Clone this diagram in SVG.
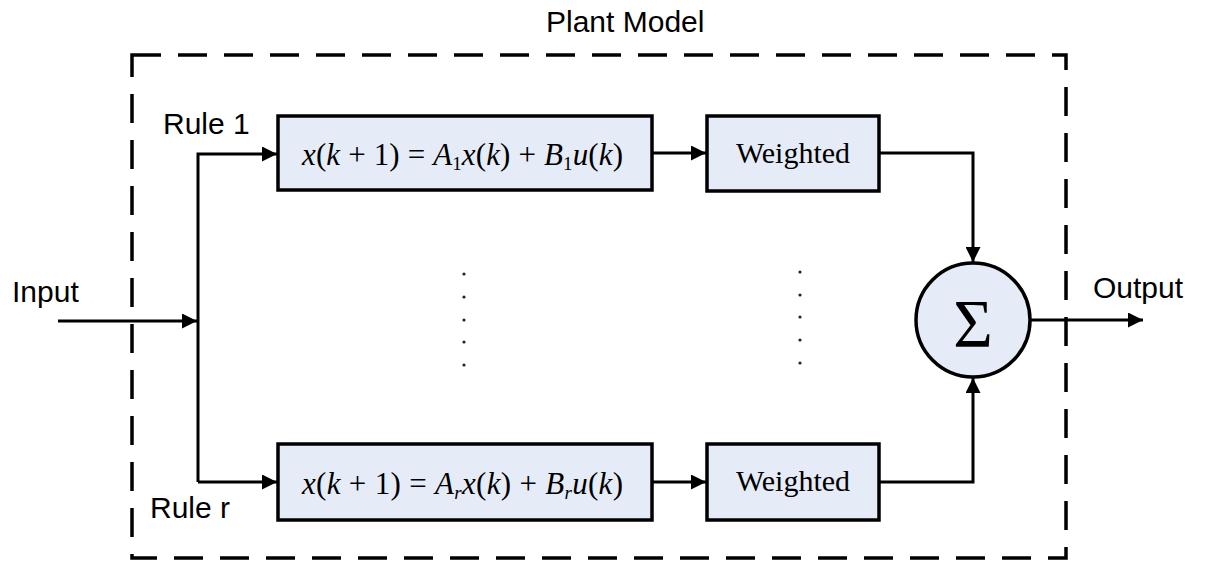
<svg xmlns="http://www.w3.org/2000/svg" width="1206" height="565" viewBox="0 0 1206 565">
<style>
.box{fill:#e6ecf7;stroke:#000;stroke-width:3.5}
.ln{fill:none;stroke:#000;stroke-width:3}
.sans{font-family:"Liberation Sans",Arial,sans-serif;font-size:30px;fill:#000}
.serif{font-family:"Liberation Serif","Times New Roman",serif;fill:#000}
.eq{font-size:31px}
.it{font-style:italic}
.sub{font-size:19px}
.dot{fill:#222}
</style>
<defs>
<marker id="ah" viewBox="0 0 10 10" refX="10" refY="5" markerWidth="18" markerHeight="15" markerUnits="userSpaceOnUse" orient="auto">
<path d="M0,0 L10,5 L0,10 Z" fill="#000"/>
</marker>
</defs>
<rect x="0" y="0" width="1206" height="565" fill="#fff"/>
<g id="plant-model">
<rect x="132" y="55" width="934" height="503" fill="none" stroke="#000" stroke-width="3.5" stroke-dasharray="29 17"/>
<text class="sans" x="546" y="32">Plant Model</text>
</g>
<g id="connectors">
<path class="ln" d="M58,321 L197,321" marker-end="url(#ah)"/>
<path class="ln" d="M198,482 L198,154 L277,154" marker-end="url(#ah)"/>
<path class="ln" d="M198,482 L277,482" marker-end="url(#ah)"/>
<path class="ln" d="M652,153 L706,153" marker-end="url(#ah)"/>
<path class="ln" d="M652,482 L706,482" marker-end="url(#ah)"/>
<path class="ln" d="M879,153 L973,153 L973,262" marker-end="url(#ah)"/>
<path class="ln" d="M879,482 L973,482 L973,378" marker-end="url(#ah)"/>
<path class="ln" d="M1031,320 L1143,320" marker-end="url(#ah)"/>
</g>
<g id="labels">
<text class="sans" x="12" y="302">Input</text>
<text class="sans" x="163" y="134">Rule 1</text>
<text class="sans" x="150" y="518">Rule r</text>
<text class="sans" x="1093" y="298">Output</text>
</g>
<g id="rule1-model">
<rect class="box" x="278" y="116" width="374" height="74"/>
<text class="serif eq" x="302" y="165" textLength="321" lengthAdjust="spacing"><tspan class="it">x</tspan>(<tspan class="it">k</tspan> + 1) = <tspan class="it">A</tspan><tspan class="sub" dy="5">1</tspan><tspan class="it" dy="-5">x</tspan>(<tspan class="it">k</tspan>) + <tspan class="it">B</tspan><tspan class="sub" dy="5">1</tspan><tspan class="it" dy="-5">u</tspan>(<tspan class="it">k</tspan>)</text>
</g>
<g id="ruler-model">
<rect class="box" x="278" y="444" width="374" height="76"/>
<text class="serif eq" x="302" y="494" textLength="321" lengthAdjust="spacing"><tspan class="it">x</tspan>(<tspan class="it">k</tspan> + 1) = <tspan class="it">A</tspan><tspan class="sub it" dy="5">r</tspan><tspan class="it" dy="-5">x</tspan>(<tspan class="it">k</tspan>) + <tspan class="it">B</tspan><tspan class="sub it" dy="5">r</tspan><tspan class="it" dy="-5">u</tspan>(<tspan class="it">k</tspan>)</text>
</g>
<g id="weighted1">
<rect class="box" x="707" y="116" width="172" height="75"/>
<text class="serif" x="793" y="163" font-size="30" text-anchor="middle">Weighted</text>
</g>
<g id="weightedr">
<rect class="box" x="707" y="444" width="172" height="76"/>
<text class="serif" x="793" y="491" font-size="30" text-anchor="middle">Weighted</text>
</g>
<g id="sum">
<circle class="box" cx="973" cy="320" r="57"/>
<text class="serif" x="973" y="346" font-size="68" text-anchor="middle">Σ</text>
</g>
<g id="ellipsis">
<circle class="dot" cx="464" cy="274" r="1.6"/>
<circle class="dot" cx="464" cy="297" r="1.6"/>
<circle class="dot" cx="464" cy="320" r="1.6"/>
<circle class="dot" cx="464" cy="342" r="1.6"/>
<circle class="dot" cx="464" cy="365" r="1.6"/>
<circle class="dot" cx="800" cy="272" r="1.6"/>
<circle class="dot" cx="800" cy="295" r="1.6"/>
<circle class="dot" cx="800" cy="317" r="1.6"/>
<circle class="dot" cx="800" cy="340" r="1.6"/>
<circle class="dot" cx="800" cy="363" r="1.6"/>
</g>
</svg>
